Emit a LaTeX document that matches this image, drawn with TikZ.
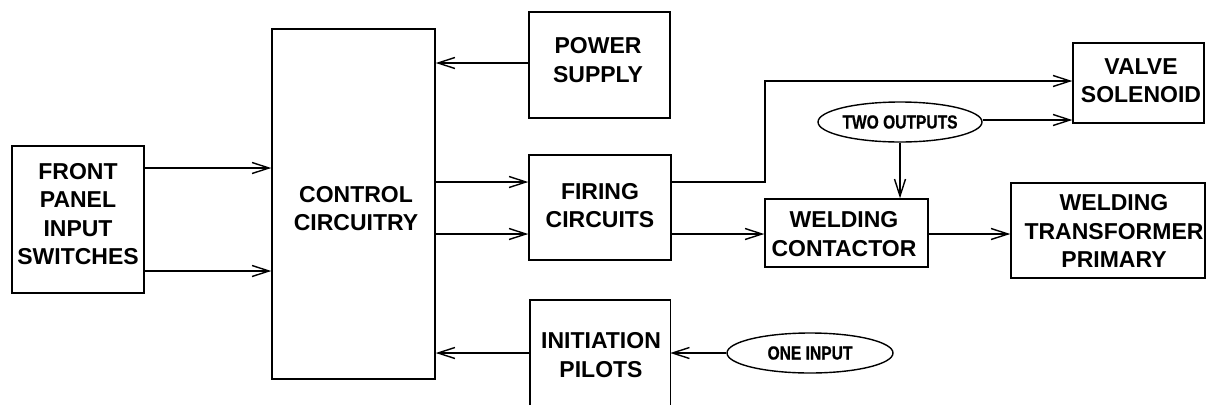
\documentclass[tikz,border=0pt]{standalone}
\usepackage{fontspec}
\setmainfont{Liberation Sans}
\newfontfamily\condfont[FakeStretch=0.82,FakeBold=0.6]{Liberation Sans Bold}
\usetikzlibrary{arrows.meta,shapes.geometric}
\begin{document}
\begin{tikzpicture}[x=1pt,y=-1pt,
  blk/.style={draw, line width=1.4pt, rectangle, inner sep=0pt},
  txt/.style={align=center, inner sep=0pt, font=\fontsize{23}{28.5}\selectfont\bfseries},
  oval/.style={draw, ellipse, line width=1.4pt, inner sep=0pt, font=\fontsize{19}{20}\selectfont\condfont},
  arr/.style={line width=1.4pt, -{Straight Barb[length=17pt,width=11pt,line width=1.4pt]}},
  ln/.style={line width=1.4pt}]
\useasboundingbox (0,0) rectangle (1206,405);
% boxes
\node[blk, minimum width=132pt, minimum height=147pt] (fp) at (78,219.5) {};
\node[blk, minimum width=163pt, minimum height=350pt] (cc) at (353.5,204) {};
\node[blk, minimum width=141pt, minimum height=106pt] (ps) at (599.5,65) {};
\node[blk, minimum width=142pt, minimum height=105pt] (fc) at (600,207.5) {};
\node[blk, minimum width=131pt, minimum height=80pt] (vs) at (1138.5,83) {};
\node[blk, minimum width=163pt, minimum height=68pt] (wc) at (846.5,233) {};
\node[blk, minimum width=194pt, minimum height=95pt] (wt) at (1108,230.5) {};
\node[inner sep=0pt, minimum width=140pt, minimum height=105pt] (ip) at (600,352.5) {};
\draw[ln] (ip.south west) -- (ip.north west) -- (ip.north east) -- (ip.south east);
% ovals
\node[oval, minimum width=164pt, minimum height=40pt] (two) at (900,122) {TWO OUTPUTS};
\node[oval, minimum width=166pt, minimum height=40pt] (one) at (810,353) {ONE INPUT};
% texts
\node[txt] (fpt) at (78,214) {FRONT\\PANEL\\INPUT\\SWITCHES};
\node[txt] (cct) at (356,208.5) {CONTROL\\CIRCUITRY};
\node[txt] (pst) at (598,60) {POWER\\SUPPLY};
\node[txt] (fct) at (600,205.5) {FIRING\\CIRCUITS};
\node[txt] (vst) at (1141,80.5) {VALVE\\SOLENOID};
\node[txt] (wct) at (844,234) {WELDING\\CONTACTOR};
\node[txt] (wtt) at (1114,231) {WELDING\\TRANSFORMER\\PRIMARY};
\node[txt] (ipt) at (601,355) {INITIATION\\PILOTS};
% helper levels
\coordinate (ya) at (0,168);
\coordinate (yb) at (0,271);
\coordinate (yc) at (0,63);
\coordinate (yd) at (0,182);
\coordinate (ye) at (0,234);
\coordinate (yf) at (0,353);
\coordinate (yg) at (0,120);
\coordinate (yh) at (0,81);
\coordinate (bend) at (765,182);
\coordinate (bendup) at (765,81);
% connectors
\draw[arr] (fp.east |- ya) -- (cc.west |- ya);
\draw[arr] (fp.east |- yb) -- (cc.west |- yb);
\draw[arr] (ps.west |- yc) -- (cc.east |- yc);
\draw[arr] (cc.east |- yd) -- (fc.west |- yd);
\draw[arr] (cc.east |- ye) -- (fc.west |- ye);
\draw[arr] (fc.east |- yd) -- (bend) -- (bendup) -- (vs.west |- yh);
\draw[arr] (two.east |- yg) -- (vs.west |- yg);
\draw[arr] (two.south) -- (wc.north -| two.south);
\draw[arr] (fc.east |- ye) -- (wc.west |- ye);
\draw[arr] (wc.east |- ye) -- (wt.west |- ye);
\draw[arr] (ip.west |- yf) -- (cc.east |- yf);
\draw[arr] (one.west) -- (ip.east |- one.west);
\end{tikzpicture}
\end{document}
